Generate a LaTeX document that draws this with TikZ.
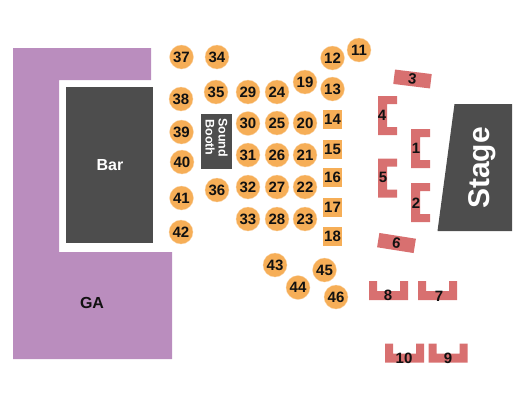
\documentclass[tikz,border=0pt]{standalone}
\usepackage{fontspec}
\setmainfont{Liberation Sans}
\usetikzlibrary{positioning}
\definecolor{HallPurple}{HTML}{BA8DBE}
\definecolor{HallDark}{HTML}{4D4D4D}
\definecolor{SeatOrange}{HTML}{F6AE57}
\definecolor{SeatRed}{HTML}{D87070}
\definecolor{SeatInk}{HTML}{111111}
\tikzset{
  roundtable/.style={circle,fill=SeatOrange,draw=SeatOrange!50!white,line width=.3pt,inner sep=0pt,
    minimum size=24pt,font=\fontsize{15}{15}\bfseries,text=SeatInk},
  squaretable/.style={rectangle,fill=SeatOrange,inner sep=0pt,minimum size=19pt,
    font=\fontsize{15}{15}\bfseries,text=SeatInk},
  slanttable/.style={rectangle,fill=SeatRed,inner sep=0pt,minimum width=37pt,minimum height=14.5pt,
    font=\fontsize{15}{15}\bfseries,text=SeatInk},
  seatlabel/.style={inner sep=0pt,font=\fontsize{15}{15}\bfseries,text=SeatInk},
  darklabel/.style={inner sep=0pt,font=\bfseries,text=white},
}
% bracket tables, open to the right or open upwards
\newcommand{\BracketRight}[2]{%
  \begin{scope}[shift={(#1,#2)}]
    \fill[SeatRed] (0,0)--(19,0)--(19,8)--(9,8)--(9,31)--(19,31)--(19,39)--(0,39)--cycle;
  \end{scope}}
\newcommand{\BracketUp}[2]{%
  \begin{scope}[shift={(#1,#2)}]
    \fill[SeatRed] (0,0)--(8,0)--(8,10)--(31,10)--(31,0)--(39,0)--(39,19)--(0,19)--cycle;
  \end{scope}}

\begin{document}
\begin{tikzpicture}[x=1pt,y=-1pt]
  \useasboundingbox (0,0) rectangle (525,400);
  % general admission and fixed blocks
  \fill[HallPurple] (13,48)--(151,48)--(151,80)--(59,80)--(59,252)--(172,252)--(172,359)--(13,359)--cycle;
  \node[seatlabel,font=\fontsize{16}{16}\bfseries] (ga) at (92,303) {GA};
  \fill[HallDark] (66,87) rectangle (153,243);
  \node[darklabel,font=\fontsize{16}{16}\bfseries] (bar) at (110,165) {Bar};
  \fill[HallDark] (201,114) rectangle (232,169);
  \node[darklabel,rotate=-90,align=center,font=\fontsize{12.5}{13}\bfseries] (booth) at (216.5,137.5) {Sound\\Booth};
  \fill[HallDark] (454.5,104)--(512,104)--(512,231)--(437.5,231)--cycle;
  \node[darklabel,rotate=90,font=\fontsize{30}{30}\bfseries] (stage) at (482,168) {Stage};
  % round tables
  \foreach \num/\px/\py in {11/359/50,12/332.5/58,13/332.5/89,19/305/82,20/305/123,21/305/155,22/305/187,23/305/219,
    24/277/92,25/277/123,26/277/155,27/277/187,28/277/219,29/248/92,30/248/123.5,31/248/155,32/248/187,33/248/219,
    34/217/57,35/216/92,36/217/190,37/181.5/57,38/181/99,39/181.5/132,40/182/162,41/181.5/198,42/181/232,
    43/275/265,44/298/287.5,45/324.5/270,46/336/297}
    \node[roundtable] (table\num) at (\px,\py) {\num};
  % square tables
  \foreach \num/\py in {14/119.5,15/149,16/177.5,17/207.5,18/236.5}
    \node[squaretable] (table\num) at (332.5,\py) {\num};
  % red tables
  \BracketRight{411}{129}
  \BracketRight{411}{183}
  \BracketRight{378}{96}
  \BracketRight{378}{158.5}
  \BracketUp{369}{281}
  \BracketUp{418}{281}
  \BracketUp{385}{343.5}
  \BracketUp{428.5}{343.5}
  \node[slanttable,rotate=-7] (table3) at (412.5,79) {3};
  \node[slanttable,rotate=-9] (table6) at (396.5,243) {6};
  \foreach \num/\px/\py in {1/416/148,2/416/203,4/382/115,5/383/177,7/439/296,8/388/295,9/448/358,10/404/358}
    \node[seatlabel] (table\num) at (\px,\py) {\num};
\end{tikzpicture}
\end{document}
